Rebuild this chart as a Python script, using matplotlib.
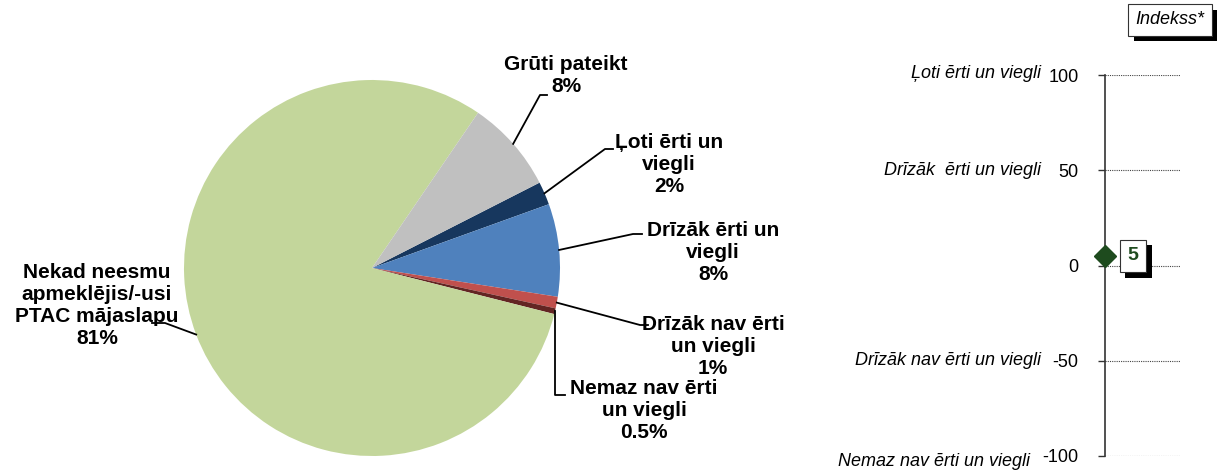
import matplotlib
matplotlib.use("Agg")
import matplotlib.pyplot as plt
import matplotlib.patheffects as pe
import numpy as np

plt.rcParams['font.family'] = ['Liberation Sans', 'DejaVu Sans']

# pie data, clockwise from the first slice
labels = ['Ļoti ērti un\nviegli', 'Drīzāk ērti un\nviegli', 'Drīzāk nav ērti\nun viegli',
          'Nemaz nav ērti\nun viegli', 'Nekad neesmu\napmeklējis/-usi\nPTAC mājaslapu',
          'Grūti pateikt']
shares = [2, 8, 1, 0.5, 81, 8]
share_text = ['2%', '8%', '1%', '0.5%', '81%', '8%']
colors = ['#17375E', '#4F81BD', '#C0504D', '#632523', '#C3D69B', '#C0C0C0']

# index scale
scale_ticks = [100, 50, 0, -50, -100]
scale_names = ['Ļoti ērti un viegli', 'Drīzāk  ērti un viegli', '',
               'Drīzāk nav ērti un viegli', 'Nemaz nav ērti un viegli']
index_value = 5

W, H = 1219, 471
fig = plt.figure(figsize=(W / 100, H / 100), dpi=100)

# pie centre and radius in pixels
CX, CY, R = 372, 268, 188
ax = fig.add_axes([(CX - R) / W, 1 - (CY + R) / H, 2 * R / W, 2 * R / H])
wedges, _ = ax.pie(shares, colors=colors, startangle=27, counterclock=False,
                   radius=1, wedgeprops=dict(linewidth=0))
ax.set_xlim(-1, 1)
ax.set_ylim(-1, 1)
ax.set_aspect('auto')
ax.axis('off')


def px(x, y):
    return (x - CX) / R, (CY - y) / R


# label centre, leader elbow and leader end (pixels)
label_pos = [(669, 164), (713, 252), (713, 346), (644, 411), (97, 306), (566, 76)]
elbows = [(605, 149), (633, 234), (640, 325), (553, 395), (165, 323), (540, 95)]
ends = [(613, 149), (642, 234), (648, 325), (565, 395), (152, 323), (547, 95)]

for w, lab, st, lp, el, en in zip(wedges, labels, share_text, label_pos, elbows, ends):
    mid = np.deg2rad((w.theta1 + w.theta2) / 2)
    x0, y0 = np.cos(mid), np.sin(mid)
    if lab.startswith('Nemaz'):
        el = (CX + x0 * R, el[1])
    xe, ye = px(*el)
    xn, yn = px(*en)
    ax.plot([x0, xe, xn], [y0, ye, yn], color='black', lw=1.3, clip_on=False)
    tx, ty = px(*lp)
    ax.text(tx, ty, lab + '\n' + st, ha='center', va='center', multialignment='center',
            fontsize=15, fontweight='bold', linespacing=1.2)

# index scale panel
AX0, AX1, TOP, BOT = 1105, 1180, 75, 456
ax2 = fig.add_axes([AX0 / W, 1 - BOT / H, (AX1 - AX0) / W, (BOT - TOP) / H])
ax2.set_xlim(0, 1)
ax2.set_ylim(-100, 100)
for s in ['top', 'right', 'bottom']:
    ax2.spines[s].set_visible(False)
ax2.spines['left'].set_color('#333333')
ax2.spines['left'].set_linewidth(1.2)
ax2.set_xticks([])
ax2.set_yticks(scale_ticks)
ax2.set_yticklabels([str(t) for t in scale_ticks])
ax2.tick_params(axis='y', length=5, width=1, color='#333333', labelsize=13, pad=14)
for t in scale_ticks:
    ax2.axhline(t, color='#444444', lw=0.8, linestyle=(0, (1, 1)), zorder=1)

name_x = [1041, 1041, 1041, 1041, 1030]
name_dy = [-2, 0, 0, 0, 5]
for t, nm, nx, dy in zip(scale_ticks, scale_names, name_x, name_dy):
    if not nm:
        continue
    yp = TOP + (100 - t) / 200 * (BOT - TOP) + dy
    fig.text(nx / W, 1 - yp / H, nm, ha='right', va='center', fontsize=13, style='italic')

ax2.plot([0], [index_value], marker='D', markersize=11, color='#1E4B1E', clip_on=False, zorder=5)

shadow = [pe.withSimplePatchShadow(offset=(4, -4), shadow_rgbFace='black', alpha=1.0)]
vt = ax2.annotate(str(index_value), xy=(0, index_value), xytext=(20, 0),
                  textcoords='offset points', ha='center', va='center',
                  fontsize=14, fontweight='bold', color='#1E4B1E',
                  bbox=dict(boxstyle='square,pad=0.4', fc='white', ec='#333333', lw=0.8),
                  zorder=6)
vt.get_bbox_patch().set_path_effects(shadow)

it = fig.text(1170 / W, 1 - 20 / H, 'Indekss*', ha='center', va='center', fontsize=13,
              style='italic',
              bbox=dict(boxstyle='square,pad=0.4', fc='white', ec='#333333', lw=0.8))
it.get_bbox_patch().set_path_effects(shadow)

fig.savefig('out.png', dpi=100, facecolor='white')
